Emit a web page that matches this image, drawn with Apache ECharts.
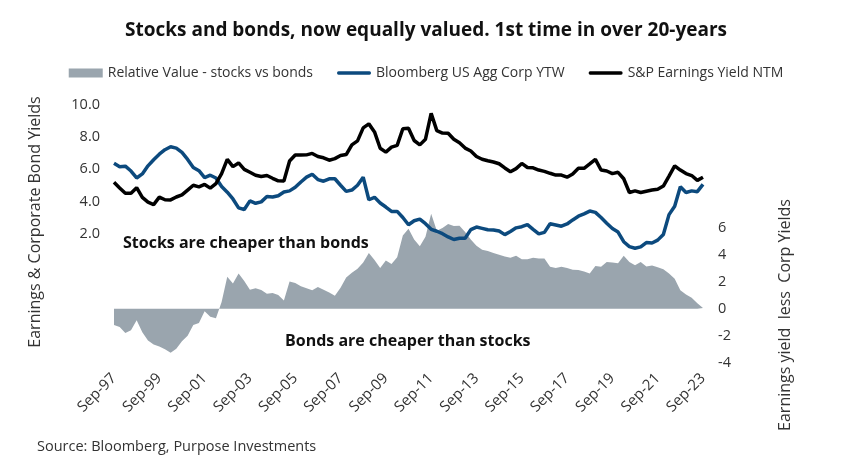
<!DOCTYPE html>
<html><head><meta charset="utf-8">
<script src="https://cdn.jsdelivr.net/npm/echarts@6/dist/echarts.min.js"></script>
<style>html,body{margin:0;padding:0;background:#fff}#c{width:852px;height:473px}</style>
</head><body><div id="c"></div>
<script>
// Quarterly observations Sep-97 ... Sep-23
const quarterMonths = ['Sep','Dec','Mar','Jun'];
const categories = [];
for (let y = 1997; categories.length < 105; y++) {
  for (let q = 0; q < 4 && categories.length < 105; q++) {
    const yr = q < 2 ? y : y + 1;
    categories.push(quarterMonths[q] + '-' + String(yr % 100).padStart(2, '0'));
  }
}

const corpYTW = [6.36,6.15,6.18,5.88,5.45,5.7,6.2,6.58,6.92,7.2,7.38,7.3,7.03,6.6,6.1,5.9,5.47,5.62,5.45,4.92,
4.57,4.15,3.6,3.5,4.03,3.88,3.97,4.3,4.27,4.35,4.58,4.65,4.87,5.2,5.5,5.68,5.35,5.25,5.4,5.4,
5.0,4.62,4.7,5.0,5.5,4.1,4.25,3.9,3.65,3.38,3.38,3.0,2.55,2.8,2.9,2.62,2.27,2.15,2.0,1.8,
1.64,1.72,1.72,2.25,2.41,2.33,2.24,2.23,2.16,1.94,2.14,2.36,2.43,2.56,2.27,1.99,2.08,2.61,2.54,2.46,
2.6,2.85,3.08,3.23,3.4,3.32,3.0,2.65,2.32,2.1,1.5,1.2,1.1,1.18,1.45,1.42,1.6,1.95,3.18,3.7,
4.91,4.55,4.65,4.6,5.05];

const earningsYield = [5.18,4.83,4.5,4.5,4.85,4.25,3.95,3.8,4.26,4.1,4.09,4.27,4.4,4.7,5.0,4.9,5.05,4.82,5.1,5.72,
6.6,6.15,6.38,5.98,5.8,5.62,5.54,5.6,5.43,5.27,5.26,6.5,6.87,6.87,6.88,6.97,6.78,6.7,6.55,6.65,
6.84,6.9,7.5,7.75,8.55,8.8,8.3,7.29,7.05,7.36,7.47,8.5,8.53,7.77,7.5,7.85,9.45,8.38,8.23,8.22,
7.85,7.63,7.3,7.12,6.78,6.61,6.52,6.44,6.33,6.07,5.84,6.03,6.35,6.1,6.08,5.94,5.86,5.74,5.63,5.63,
5.5,5.7,6.05,6.05,6.32,6.6,5.94,5.88,5.72,5.8,5.4,4.55,4.65,4.55,4.63,4.7,4.75,4.95,5.57,6.2,
5.94,5.72,5.6,5.3,5.5];

const relativeValue = [-1.2,-1.35,-1.8,-1.6,-0.85,-1.75,-2.35,-2.65,-2.8,-3.0,-3.25,-2.95,-2.4,-2.0,-1.2,-1.05,-0.2,-0.6,-0.7,0.5,
2.35,1.85,2.6,2.05,1.4,1.5,1.37,1.1,1.15,1.0,0.6,2.0,1.9,1.65,1.5,1.35,1.6,1.4,1.2,0.95,
1.55,2.3,2.65,2.95,3.4,4.1,3.6,3.0,3.55,3.3,3.8,5.4,5.9,5.1,4.6,5.3,7.0,5.75,5.95,6.25,
6.1,6.12,5.65,5.1,4.65,4.35,4.25,4.1,3.98,3.85,3.75,3.9,3.65,3.65,3.75,3.7,3.7,3.1,3.0,3.1,
3.0,2.87,2.85,2.75,2.6,3.15,3.1,3.45,3.4,3.35,3.9,3.45,3.2,3.45,3.12,3.18,3.05,2.9,2.6,2.2,
1.35,1.05,0.8,0.4,0.05];

const leftTicks = [2, 4, 6, 8, 10];
const rightTicks = [-4, -2, 0, 2, 4, 6];

const FONT = '"Open Sans", "Noto Sans", sans-serif';
const LINE_ICON = 'path://M0,0 M34,9 M1.5,2.8 L32.5,2.8 Q34,2.8 34,4.5 Q34,6.2 32.5,6.2 L1.5,6.2 Q0,6.2 0,4.5 Q0,2.8 1.5,2.8 Z';
const chart = echarts.init(document.getElementById('c'));
chart.setOption({
  animation: false,
  textStyle: { fontFamily: FONT },
  title: {
    text: 'Stocks and bonds, now equally valued. 1st time in over 20-years',
    left: 'center', top: 16,
    textStyle: { fontFamily: FONT, fontWeight: 'bold', fontSize: 19, color: '#111' }
  },
  legend: {
    top: 61, left: 'center', itemWidth: 34, itemHeight: 9, itemGap: 24,
    textStyle: { fontFamily: FONT, fontSize: 14, color: '#333' },
    data: [
      { name: 'Relative Value - stocks vs bonds', icon: 'rect', itemStyle: { color: '#9aa5ae' } },
      { name: 'Bloomberg US Agg Corp YTW', icon: LINE_ICON, itemStyle: { color: '#0c4a7e' } },
      { name: 'S&P Earnings Yield NTM', icon: LINE_ICON, itemStyle: { color: '#000' } }
    ]
  },
  grid: { left: 114, right: 149, top: 104.5, bottom: 105, containLabel: false },
  xAxis: {
    type: 'category', data: categories, boundaryGap: false,
    axisLine: { show: false }, axisTick: { show: false },
    axisLabel: { interval: 7, rotate: 45, fontSize: 15, color: '#333', margin: 8, fontFamily: FONT }
  },
  yAxis: [
    { type: 'value', min: -6.32, max: 10, splitLine: { show: false },
      axisLine: { show: false }, axisTick: { show: false },
      axisLabel: { customValues: leftTicks, formatter: v => v.toFixed(1), fontSize: 14.5, color: '#333', margin: 14, fontFamily: FONT } },
    { type: 'value', min: -4.38, max: 15.07, position: 'right', splitLine: { show: false },
      axisLine: { show: false }, axisTick: { show: false },
      axisLabel: { customValues: rightTicks, formatter: v => String(v), fontSize: 14.5, color: '#333', margin: 15, fontFamily: FONT } }
  ],
  series: [
    { name: 'Relative Value - stocks vs bonds', type: 'line', yAxisIndex: 1, data: relativeValue,
      symbol: 'none', lineStyle: { width: 0 }, itemStyle: { color: '#9aa5ae' },
      areaStyle: { color: '#9aa5ae', opacity: 1 }, z: 1 },
    { name: 'Bloomberg US Agg Corp YTW', type: 'line', yAxisIndex: 0, data: corpYTW,
      symbol: 'none', lineStyle: { width: 3.5, color: '#0c4a7e' }, itemStyle: { color: '#0c4a7e' }, z: 3 },
    { name: 'S&P Earnings Yield NTM', type: 'line', yAxisIndex: 0, data: earningsYield,
      symbol: 'none', lineStyle: { width: 3.5, color: '#000' }, itemStyle: { color: '#000' }, z: 4 }
  ],
  graphic: [
    { type: 'text', x: 123, y: 243, style: { text: 'Stocks are cheaper than bonds', fontFamily: FONT, fontWeight: 'bold', fontSize: 16, fill: '#111', verticalAlign: 'middle' } },
    { type: 'text', x: 285, y: 341, style: { text: 'Bonds are cheaper than stocks', fontFamily: FONT, fontWeight: 'bold', fontSize: 16, fill: '#111', verticalAlign: 'middle' } },
    { type: 'text', x: 35, y: 222, rotation: Math.PI / 2, style: { text: 'Earnings & Corporate Bond Yields', fontFamily: FONT, fontSize: 16, fill: '#333', align: 'center', verticalAlign: 'middle' } },
    { type: 'text', x: 785, y: 315, rotation: Math.PI / 2, style: { text: 'Earnings yield  less  Corp Yields', fontFamily: FONT, fontSize: 16, fill: '#333', align: 'center', verticalAlign: 'middle' } },
    { type: 'text', x: 37, y: 447, style: { text: 'Source: Bloomberg, Purpose Investments', fontFamily: FONT, fontSize: 14.5, fill: '#333', verticalAlign: 'middle' } }
  ]
});
</script>
</body></html>
